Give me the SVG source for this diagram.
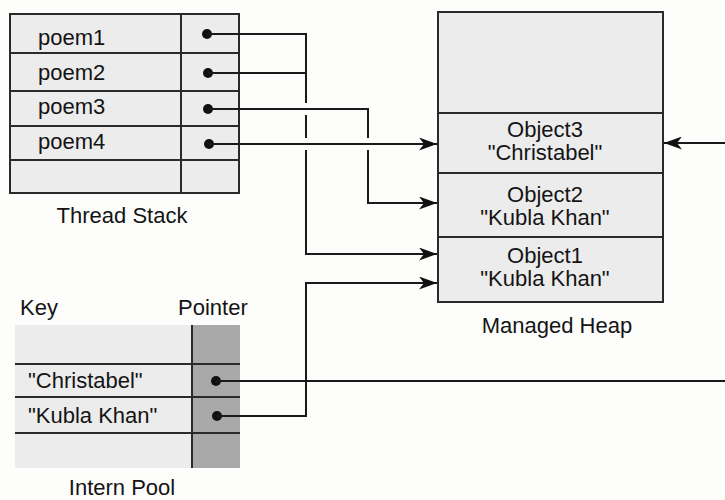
<svg xmlns="http://www.w3.org/2000/svg" width="725" height="500" viewBox="0 0 725 500">
<defs>
<style>
text{font-family:"Liberation Sans",Arial,sans-serif;font-size:22px;fill:#141414}
.mid{text-anchor:middle}
.box{fill:#ececec;stroke:#2a2a2a;stroke-width:2}
.ln{stroke:#2a2a2a;stroke-width:2;fill:none}
.conn{stroke:#1a1a1a;stroke-width:2;fill:none}
.dot{fill:#111}
</style>
<marker id="arr" viewBox="0 0 18 13" refX="18" refY="6.5" markerWidth="18" markerHeight="13" markerUnits="userSpaceOnUse" orient="auto">
<path d="M0,0 L18,6.5 L0,13 L5,6.5 z" fill="#111"/>
</marker>
</defs>
<rect width="725" height="500" fill="#fdfdfb"/>

<g id="thread-stack">
<rect class="box" x="10" y="14" width="229" height="179"/>
<line class="ln" x1="181" y1="14" x2="181" y2="193"/>
<line class="ln" x1="10" y1="53" x2="239" y2="53"/>
<line class="ln" x1="10" y1="91" x2="239" y2="91"/>
<line class="ln" x1="10" y1="126" x2="239" y2="126"/>
<line class="ln" x1="10" y1="160" x2="239" y2="160"/>
<text x="38" y="45">poem1</text>
<text x="38" y="80">poem2</text>
<text x="38" y="114">poem3</text>
<text x="38" y="149">poem4</text>
<circle class="dot" cx="207" cy="34" r="5"/>
<circle class="dot" cx="208" cy="73" r="5"/>
<circle class="dot" cx="208" cy="109" r="5"/>
<circle class="dot" cx="209" cy="144" r="5"/>
<text class="mid" x="122" y="223">Thread Stack</text>
</g>

<g id="managed-heap">
<rect class="box" x="438" y="12" width="225" height="290"/>
<line class="ln" x1="438" y1="113" x2="663" y2="113"/>
<line class="ln" x1="438" y1="173" x2="663" y2="173"/>
<line class="ln" x1="438" y1="237" x2="663" y2="237"/>
<text class="mid" x="545" y="137">Object3</text>
<text class="mid" x="545" y="160">"Christabel"</text>
<text class="mid" x="545" y="202">Object2</text>
<text class="mid" x="545" y="225">"Kubla Khan"</text>
<text class="mid" x="545" y="263">Object1</text>
<text class="mid" x="545" y="286">"Kubla Khan"</text>
<text class="mid" x="557" y="333">Managed Heap</text>
</g>

<g id="intern-pool">
<rect x="15" y="325" width="177" height="143" fill="#ececec"/>
<rect x="192" y="325" width="48" height="143" fill="#a9a9a9"/>
<line class="ln" x1="192" y1="325" x2="192" y2="468"/>
<line class="ln" x1="15" y1="364" x2="240" y2="364"/>
<line class="ln" x1="15" y1="397" x2="240" y2="397"/>
<line class="ln" x1="15" y1="433" x2="240" y2="433"/>
<text x="20" y="315">Key</text>
<text x="178" y="315">Pointer</text>
<text x="28" y="388">"Christabel"</text>
<text x="28" y="423">"Kubla Khan"</text>
<circle class="dot" cx="216" cy="381" r="5"/>
<circle class="dot" cx="217" cy="416" r="5"/>
<text class="mid" x="122" y="495">Intern Pool</text>
</g>

<g id="connectors">
<polyline class="conn" points="207,34 306,34 306,103"/>
<line class="conn" x1="208" y1="73" x2="306" y2="73"/>
<line class="conn" x1="306" y1="115" x2="306" y2="138"/>
<polyline class="conn" points="306,150 306,254 437,254" marker-end="url(#arr)"/>
<polyline class="conn" points="208,109 368,109 368,138"/>
<polyline class="conn" points="368,150 368,203 437,203" marker-end="url(#arr)"/>
<line class="conn" x1="209" y1="144" x2="437" y2="144" marker-end="url(#arr)"/>
<line class="conn" x1="726" y1="143" x2="664" y2="143" marker-end="url(#arr)"/>
<line class="conn" x1="216" y1="381" x2="726" y2="381"/>
<polyline class="conn" points="217,416 306,416 306,283 437,283" marker-end="url(#arr)"/>
</g>
</svg>
